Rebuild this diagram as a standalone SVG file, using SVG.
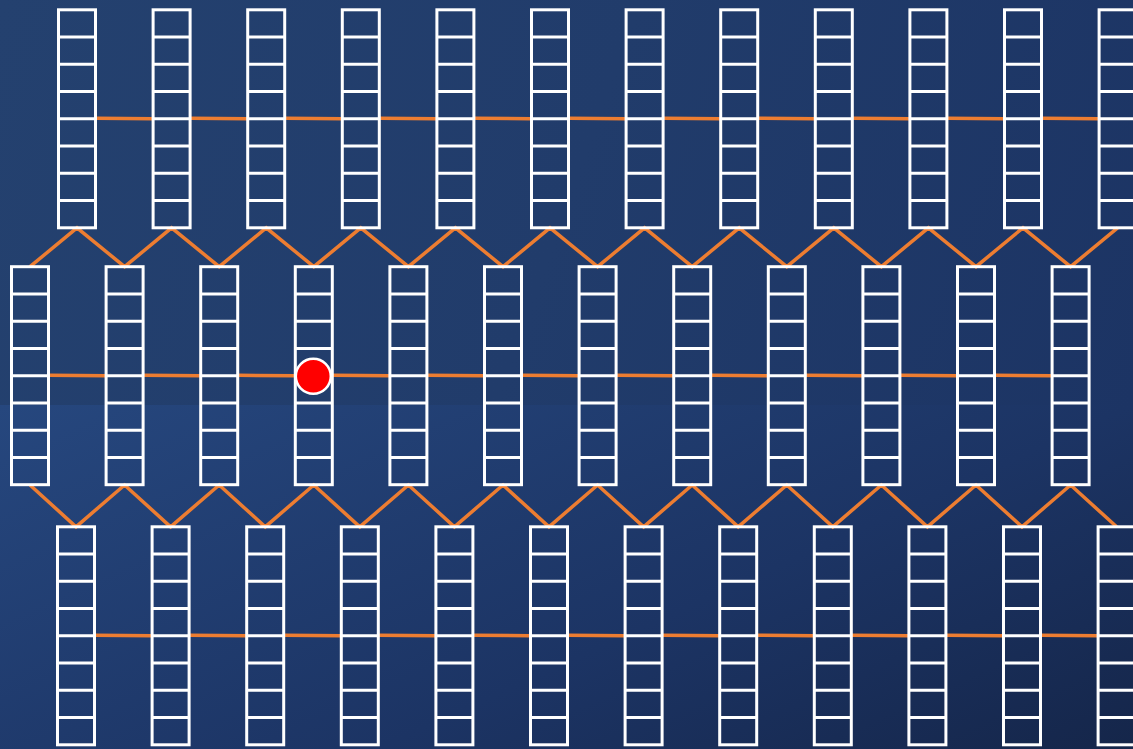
<svg xmlns="http://www.w3.org/2000/svg" xmlns:xlink="http://www.w3.org/1999/xlink" width="1133" height="749" viewBox="0 0 1133 749">
<style>
.lad{fill:none;stroke:#ffffff;stroke-width:3}
.con{fill:none;stroke:#ED7D31;stroke-width:3.5;stroke-linejoin:miter}
.dot{fill:#ff0000;stroke:#ffffff;stroke-width:2.5}
</style>
<defs>
<linearGradient id="bgLow" gradientUnits="userSpaceOnUse" x1="0" y1="405" x2="324" y2="1117">
<stop offset="0" stop-color="#26477e"/>
<stop offset="0.6" stop-color="#1c3464"/>
<stop offset="1" stop-color="#15264a"/>
</linearGradient>
<linearGradient id="bgUp" gradientUnits="userSpaceOnUse" x1="0" y1="0" x2="1133" y2="405">
<stop offset="0" stop-color="#24416f"/>
<stop offset="0.5" stop-color="#213c6b"/>
<stop offset="1" stop-color="#1c3464"/>
</linearGradient>
<g id="ladder" class="lad">
<rect x="0" y="0" width="37" height="218"/>
<path d="M0 27.25H37M0 54.5H37M0 81.75H37M0 109H37M0 136.25H37M0 163.5H37M0 190.75H37"/>
</g>
</defs>
<rect x="0" y="405" width="1133" height="344" fill="url(#bgLow)"/>
<rect x="0" y="0" width="1133" height="405" fill="url(#bgUp)"/>

<g id="connectors" class="con">
<path d="M95.5 118.3L153.1 118.8M190.1 118.3L247.7 118.8M284.7 118.3L342.3 118.8M379.3 118.3L436.9 118.8M473.9 118.3L531.5 118.8M568.5 118.3L626.1 118.8M663.1 118.3L720.7 118.8M757.7 118.3L815.3 118.8M852.3 118.3L909.9 118.8M946.9 118.3L1004.5 118.8M1041.5 118.3L1099.1 118.8"/>
<path d="M48.5 375.3L106.1 375.8M143.1 375.3L200.7 375.8M237.7 375.3L295.3 375.8M332.3 375.3L389.9 375.8M426.9 375.3L484.5 375.8M521.5 375.3L579.1 375.8M616.1 375.3L673.7 375.8M710.7 375.3L768.3 375.8M805.3 375.3L862.9 375.8M899.9 375.3L957.5 375.8M994.5 375.3L1052.1 375.8"/>
<path d="M94.5 635.2L152.1 635.7M189.1 635.2L246.7 635.7M283.7 635.2L341.3 635.7M378.3 635.2L435.9 635.7M472.9 635.2L530.5 635.7M567.5 635.2L625.1 635.7M662.1 635.2L719.7 635.7M756.7 635.2L814.3 635.7M851.3 635.2L908.9 635.7M945.9 635.2L1003.5 635.7M1040.5 635.2L1098.1 635.7"/>
<polyline points="30,266.7 77,227.8 124.6,266.7 171.6,227.8 219.2,266.7 266.2,227.8 313.8,266.7 360.8,227.8 408.4,266.7 455.4,227.8 503,266.7 550,227.8 597.6,266.7 644.6,227.8 692.2,266.7 739.2,227.8 786.8,266.7 833.8,227.8 881.4,266.7 928.4,227.8 976,266.7 1023,227.8 1070.6,266.7 1117.6,227.8"/>
<polyline points="30,485 76,526.8 124.6,485 170.6,526.8 219.2,485 265.2,526.8 313.8,485 359.8,526.8 408.4,485 454.4,526.8 503,485 549,526.8 597.6,485 643.6,526.8 692.2,485 738.2,526.8 786.8,485 832.8,526.8 881.4,485 927.4,526.8 976,485 1022,526.8 1070.6,485 1116.6,526.8"/>
</g>

<g id="top-row">
<g id="t1"><use href="#ladder" x="58.5" y="9.8"/></g>
<g id="t2"><use href="#ladder" x="153.1" y="9.8"/></g>
<g id="t3"><use href="#ladder" x="247.7" y="9.8"/></g>
<g id="t4"><use href="#ladder" x="342.3" y="9.8"/></g>
<g id="t5"><use href="#ladder" x="436.9" y="9.8"/></g>
<g id="t6"><use href="#ladder" x="531.5" y="9.8"/></g>
<g id="t7"><use href="#ladder" x="626.1" y="9.8"/></g>
<g id="t8"><use href="#ladder" x="720.7" y="9.8"/></g>
<g id="t9"><use href="#ladder" x="815.3" y="9.8"/></g>
<g id="t10"><use href="#ladder" x="909.9" y="9.8"/></g>
<g id="t11"><use href="#ladder" x="1004.5" y="9.8"/></g>
<g id="t12"><use href="#ladder" x="1099.1" y="9.8"/></g>
</g>
<g id="middle-row">
<g id="m1"><use href="#ladder" x="11.5" y="266.7"/></g>
<g id="m2"><use href="#ladder" x="106.1" y="266.7"/></g>
<g id="m3"><use href="#ladder" x="200.7" y="266.7"/></g>
<g id="m4"><use href="#ladder" x="295.3" y="266.7"/></g>
<g id="m5"><use href="#ladder" x="389.9" y="266.7"/></g>
<g id="m6"><use href="#ladder" x="484.5" y="266.7"/></g>
<g id="m7"><use href="#ladder" x="579.1" y="266.7"/></g>
<g id="m8"><use href="#ladder" x="673.7" y="266.7"/></g>
<g id="m9"><use href="#ladder" x="768.3" y="266.7"/></g>
<g id="m10"><use href="#ladder" x="862.9" y="266.7"/></g>
<g id="m11"><use href="#ladder" x="957.5" y="266.7"/></g>
<g id="m12"><use href="#ladder" x="1052.1" y="266.7"/></g>
</g>
<g id="bottom-row">
<g id="b1"><use href="#ladder" x="57.5" y="526.8"/></g>
<g id="b2"><use href="#ladder" x="152.1" y="526.8"/></g>
<g id="b3"><use href="#ladder" x="246.7" y="526.8"/></g>
<g id="b4"><use href="#ladder" x="341.3" y="526.8"/></g>
<g id="b5"><use href="#ladder" x="435.9" y="526.8"/></g>
<g id="b6"><use href="#ladder" x="530.5" y="526.8"/></g>
<g id="b7"><use href="#ladder" x="625.1" y="526.8"/></g>
<g id="b8"><use href="#ladder" x="719.7" y="526.8"/></g>
<g id="b9"><use href="#ladder" x="814.3" y="526.8"/></g>
<g id="b10"><use href="#ladder" x="908.9" y="526.8"/></g>
<g id="b11"><use href="#ladder" x="1003.5" y="526.8"/></g>
<g id="b12"><use href="#ladder" x="1098.1" y="526.8"/></g>
</g>
<g id="marker-dot"><circle class="dot" cx="313.3" cy="376.3" r="17.5"/></g>
</svg>
